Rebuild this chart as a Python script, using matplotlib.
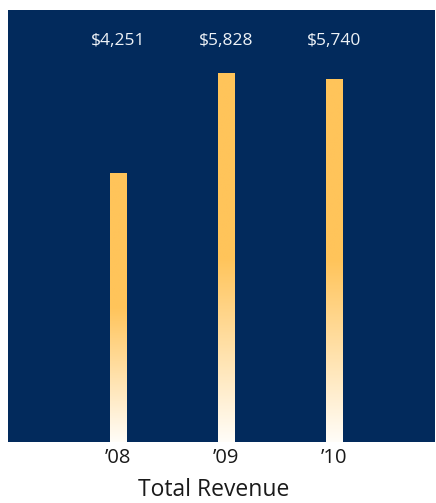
import numpy as np
import matplotlib
matplotlib.use('Agg')
import matplotlib.pyplot as plt
from matplotlib.colors import LinearSegmentedColormap
from matplotlib.transforms import blended_transform_factory

years = ["\u201908", "\u201909", "\u201910"]
revenue = [4251, 5828, 5740]
value_labels = ["$4,251", "$5,828", "$5,740"]

navy = '#022a5c'
gold = '#ffc45a'

plt.rcParams['font.family'] = ['Open Sans', 'DejaVu Sans']

fig = plt.figure(figsize=(4.36, 5.03), dpi=100)
ax = fig.add_axes([8 / 436, 1 - 442 / 503, 427 / 436, 432 / 503])
ax.set_facecolor(navy)

x = np.arange(len(years))
bars = ax.bar(x, revenue, width=16 / 108, color='none', edgecolor='none')

# white at the base, fading into solid gold over the lower half of each bar
grad = LinearSegmentedColormap.from_list('fade', [(0, '#fffdf8'), (0.5, gold), (1, gold)])
ramp = np.linspace(0, 1, 256).reshape(-1, 1)
for b in bars:
    x0, y0 = b.get_x(), b.get_y()
    im = ax.imshow(ramp, cmap=grad, origin='lower', aspect='auto',
                   extent=(x0, x0 + b.get_width(), y0, y0 + b.get_height()),
                   interpolation='bilinear', zorder=2)
    im.set_clip_path(b)

ax.set_xlim(-1.02, 2.93)
ax.set_ylim(0, 432 * 5828 / 369)

trans = blended_transform_factory(ax.transData, ax.transAxes)
for xi, lab in zip(x, value_labels):
    ax.text(xi, (442 - 41) / 432, lab, transform=trans, ha='center', va='center',
            color='#eef2f7', fontsize=12.5)

ax.set_xticks(x)
ax.set_xticklabels(years, fontsize=14.5, color='#1a1a1a')
ax.tick_params(axis='x', length=0, pad=4)
ax.set_yticks([])
for s in ax.spines.values():
    s.set_visible(False)

fig.text(214 / 436, 1 - 490 / 503, 'Total Revenue', ha='center', va='center',
         fontsize=16.5, color='#1a1a1a')

fig.savefig('out.png', dpi=100)
